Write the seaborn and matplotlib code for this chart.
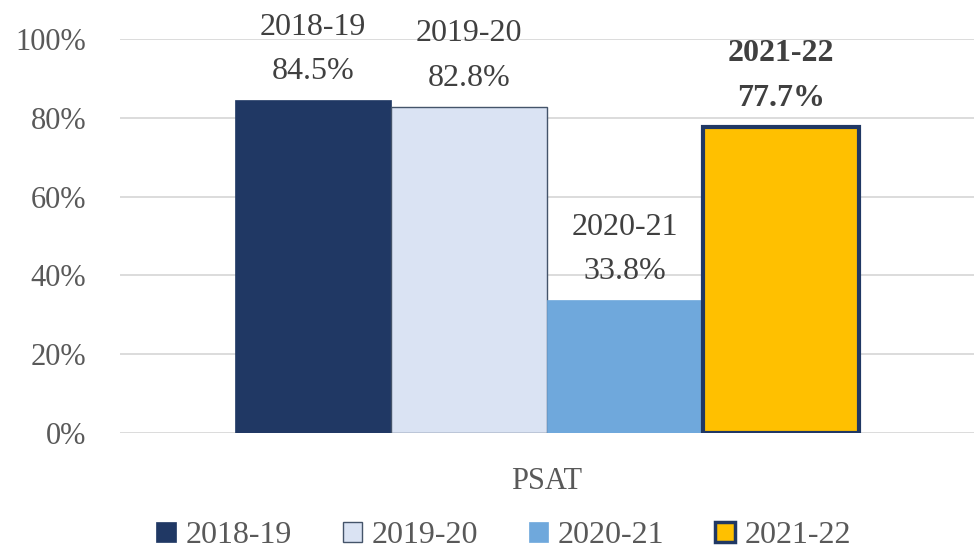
import seaborn as sns
import pandas as pd
import matplotlib.pyplot as plt
from matplotlib.ticker import PercentFormatter

sns.set_theme(style='white')
plt.rcParams['font.family'] = ['Liberation Serif', 'DejaVu Serif']

category = ['PSAT']
years = ['2018-19', '2019-20', '2020-21', '2021-22']
values = [84.5, 82.8, 33.8, 77.7]

colors = ['#203864', '#DAE3F3', '#6FA8DC', '#FFC000']
edges = ['#203864', '#44546A', '#6FA8DC', '#203864']
edge_w = [0.5, 1.0, 0.5, 3.0]

df = pd.DataFrame({'test': category * len(years), 'year': years, 'pct': values})

fig, ax = plt.subplots(figsize=(9.74, 5.54), dpi=100)
fig.subplots_adjust(left=0.123, right=1.0, top=0.93, bottom=0.218)

sns.barplot(data=df, x='test', y='pct', hue='year', hue_order=years,
            palette=colors, saturation=1, width=0.73, gap=0, legend=False, ax=ax)

for patch, ec, lw in zip(ax.patches, edges, edge_w):
    patch.set_edgecolor(ec)
    patch.set_linewidth(lw)
    patch.set_joinstyle('miter')

for patch, yr, v in zip(ax.patches, years, values):
    bold = yr == '2021-22'
    ax.annotate(f'{yr}\n{v:.1f}%',
                xy=(patch.get_x() + patch.get_width() / 2, patch.get_height()),
                xytext=(0, 10), textcoords='offset points',
                ha='center', va='bottom', fontsize=23, linespacing=1.7,
                color='#404040', fontweight='bold' if bold else 'normal')

ax.set_ylim(0, 100)
ax.set_xlim(-0.5, 0.5)
ax.yaxis.set_major_formatter(PercentFormatter(decimals=0))
ax.set_yticks(range(0, 101, 20))
ax.grid(axis='y', color='#D9D9D9', linewidth=1.3)
ax.set_axisbelow(True)
for s in ax.spines.values():
    s.set_visible(False)
ax.tick_params(axis='y', labelsize=22, labelcolor='#595959', length=0, pad=24)
ax.tick_params(axis='x', labelsize=22, labelcolor='#595959', length=0, pad=24)
ax.set_xlabel('')
ax.set_ylabel('')

handles = [plt.Rectangle((0, 0), 1, 1, facecolor=c, edgecolor=e, linewidth=lw)
           for c, e, lw in zip(colors, edges, [0.5, 1.0, 0.5, 2.5])]
fig.legend(handles, years, loc='lower center', ncol=4, frameon=False,
           fontsize=23, labelcolor='#595959', bbox_to_anchor=(0.517, -0.045),
           handlelength=0.6, handleheight=0.6, handletextpad=0.3, columnspacing=1.6)

plt.savefig('out.png', dpi=100)
